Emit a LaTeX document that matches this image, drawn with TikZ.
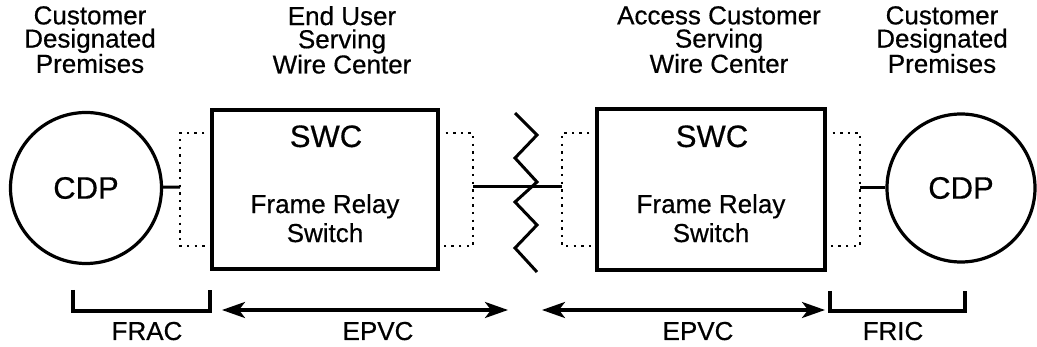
\documentclass[tikz,border=0pt]{standalone}
\usepackage{fontspec}
\setmainfont{Liberation Sans}[FakeBold=0.5]
\usetikzlibrary{arrows.meta}
\tikzset{
  lbl/.style={align=center, inner sep=0pt, anchor=north, font=\fontsize{26}{23.2}\selectfont},
  blbl/.style={inner sep=0pt, anchor=base, font=\fontsize{26}{28}\selectfont},
  cdp/.style={draw, circle, line width=3.2pt, inner sep=0pt, font=\fontsize{31}{33}\selectfont},
  swcbox/.style={draw, rectangle, line width=3.3pt, inner sep=0pt},
  swc/.style={inner sep=0pt, anchor=base, font=\fontsize{31}{33}\selectfont},
  frs/.style={align=center, inner sep=0pt, anchor=north, font=\fontsize{26}{29}\selectfont},
  dots/.style={line width=2.6pt, dash pattern=on 2.4pt off 5.2pt},
  wire/.style={line width=3pt},
  brk/.style={line width=3.3pt},
  dim/.style={line width=3.2pt, {Stealth[length=23pt,width=16pt,inset=6pt]}-{Stealth[length=23pt,width=16pt,inset=6pt]}}
}
\begin{document}
\begin{tikzpicture}[x=1pt,y=-1pt]
\useasboundingbox (0,0) rectangle (1037,347);

% top labels
\node[lbl] (tl1) at (90,6) {Customer\\Designated\\Premises};
\node[lbl] (tl2) at (342,6) {End User\\Serving\\Wire Center};
\node[lbl] (tl3) at (719,6) {Access Customer\\Serving\\Wire Center};
\node[lbl] (tl4) at (942,6) {Customer\\Designated\\Premises};

% CDP circles
\node[cdp, minimum size=151pt] (cdpL) at (86,188) {CDP};
\node[cdp, minimum size=148pt] (cdpR) at (961,188) {CDP};

% SWC boxes
\node[swcbox, minimum width=226pt, minimum height=159pt] (boxL) at (325,189.5) {};
\node[swcbox, minimum width=228pt, minimum height=161pt] (boxR) at (711,189.5) {};
\node[swc] (swcL) at (326,147) {SWC};
\node[swc] (swcR) at (712,147) {SWC};
\node[frs] (frsL) at (325,194) {Frame Relay\\Switch};
\node[frs] (frsR) at (711,194) {Frame Relay\\Switch};

% dotted brackets
\coordinate (a1) at (212,133); \coordinate (a2) at (180,133);
\coordinate (a3) at (180,246); \coordinate (a4) at (212,246);
\coordinate (dL) at (180,187);
\draw[dots] (a1) -- (a2) -- (a3) -- (a4);

\coordinate (b1) at (438,133); \coordinate (b2) at (473,133);
\coordinate (b3) at (473,246); \coordinate (b4) at (438,246);
\coordinate (dM1) at (473,187);
\draw[dots] (b1) -- (b2) -- (b3) -- (b4);

\coordinate (c1) at (597,133); \coordinate (c2) at (562,133);
\coordinate (c3) at (562,246); \coordinate (c4) at (597,246);
\coordinate (dM2) at (562,187);
\draw[dots] (c1) -- (c2) -- (c3) -- (c4);

\coordinate (e1) at (825,133); \coordinate (e2) at (860,133);
\coordinate (e3) at (860,246); \coordinate (e4) at (825,246);
\coordinate (dR) at (860,188);
\draw[dots] (e1) -- (e2) -- (e3) -- (e4);

% connectors
\draw[wire] (cdpL) -- (dL);
\draw[wire] (dM1) -- (dM2);
\draw[wire] (dR) -- (cdpR);

% zigzag break
\draw[wire, line join=miter] (515,113) -- (537,135) -- (515,158) -- (537,182) -- (515,202) -- (537,225) -- (515,248) -- (537,272);

% bottom brackets
\coordinate (f1) at (73,290); \coordinate (f2) at (73,311);
\coordinate (f3) at (210,311); \coordinate (f4) at (210,290);
\draw[brk] (f1) -- (f2) -- (f3) -- (f4);
\coordinate (g1) at (830,291); \coordinate (g2) at (830,311);
\coordinate (g3) at (965,311); \coordinate (g4) at (965,291);
\draw[brk] (g1) -- (g2) -- (g3) -- (g4);

% EPVC arrows
\coordinate (p1) at (222,310); \coordinate (p2) at (508,310);
\coordinate (q1) at (542,310); \coordinate (q2) at (825,310);
\draw[dim] (p1) -- (p2);
\draw[dim] (q1) -- (q2);

% bottom labels
\node[blbl] (frac) at (147,340) {FRAC};
\node[blbl] (epvcL) at (378,340) {EPVC};
\node[blbl] (epvcR) at (698,340) {EPVC};
\node[blbl] (fric) at (893,340) {FRIC};
\end{tikzpicture}
\end{document}
